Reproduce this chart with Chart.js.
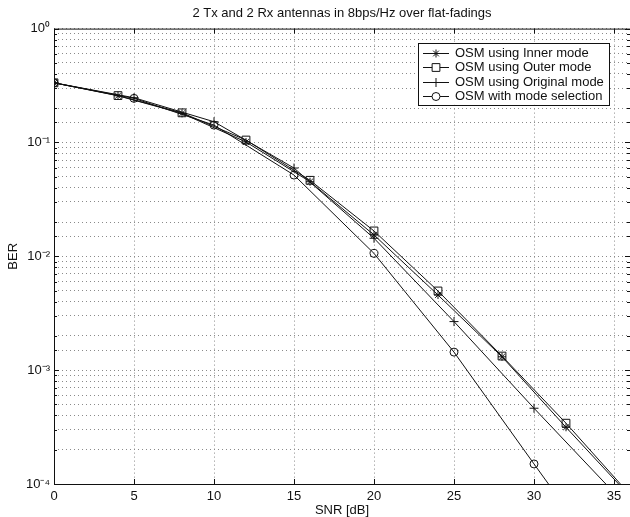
<!DOCTYPE html>
<html>
<head>
<meta charset="utf-8">
<title>OSM BER</title>
<script src="https://cdn.jsdelivr.net/npm/chart.js@4"></script>
<style>
  html, body { margin: 0; padding: 0; background: #fff; }
  #wrap { width: 630px; height: 517px; }
</style>
</head>
<body>
<div id="wrap"><canvas id="berChart"></canvas></div>
<script>
// SNR points (dB) - inner/outer curves every 4 dB, the others every 5 dB
const snrStep4 = [0, 4, 8, 12, 16, 20, 24, 28, 32, 36];
const snrStep5 = [0, 5, 10, 15, 20, 25, 30, 35];

const berInner = [0.334, 0.257, 0.180, 0.101, 0.0452, 0.0154, 0.00457, 0.00131, 0.000315, 0.000078];
const berOuter = [0.334, 0.258, 0.182, 0.105, 0.0465, 0.0167, 0.00496, 0.00133, 0.000342, 0.0000805];
const berOriginal = [0.334, 0.247, 0.152, 0.0596, 0.0144, 0.00267, 0.000463, 0.000084];
const berSelection = [0.334, 0.244, 0.142, 0.0517, 0.0106, 0.00144, 0.000150, 0.000016];

const xTicks = [0, 5, 10, 15, 20, 25, 30, 35];
const yDecades = [1, 0.1, 0.01, 0.001, 0.0001];

const seriesLabels = [
  "OSM using Inner mode",
  "OSM using Outer mode",
  "OSM using Original mode",
  "OSM with mode selection",
];

const supers = { "0": "\u2070", "1": "\u00b9", "2": "\u00b2", "3": "\u00b3", "4": "\u2074", "-": "\u207b" };

function pairs(xs, ys) {
  return xs.map((x, i) => ({ x: x, y: ys[i] }));
}

Chart.defaults.font.family = "'Liberation Sans', Arial, sans-serif";
Chart.defaults.font.size = 13;
Chart.defaults.color = "#111";

function lineSet(label, xs, ys, style, radius) {
  return {
    label: label,
    data: pairs(xs, ys),
    borderColor: "#111",
    borderWidth: 1,
    pointStyle: style,
    pointRadius: radius,
    pointBorderColor: "#111",
    pointBackgroundColor: "rgba(0,0,0,0)",
    pointBorderWidth: 1,
    tension: 0,
  };
}

// frame + inward ticks, matlab style
const framePlugin = {
  id: "frame",
  afterDatasetsDraw(chart) {
    const { ctx, chartArea: a, scales } = chart;
    ctx.save();
    ctx.strokeStyle = "#111";
    ctx.lineWidth = 1;
    ctx.strokeRect(a.left + 0.5, a.top + 0.5, a.right - a.left, a.bottom - a.top);
    ctx.beginPath();
    scales.x.ticks.forEach((t) => {
      const px = Math.round(scales.x.getPixelForValue(t.value)) + 0.5;
      ctx.moveTo(px, a.bottom);
      ctx.lineTo(px, a.bottom - 5);
      ctx.moveTo(px, a.top);
      ctx.lineTo(px, a.top + 5);
    });
    scales.y.ticks.forEach((t) => {
      const py = Math.round(scales.y.getPixelForValue(t.value)) + 0.5;
      const len = t.major ? 5 : 3;
      ctx.moveTo(a.left, py);
      ctx.lineTo(a.left + len, py);
      ctx.moveTo(a.right, py);
      ctx.lineTo(a.right - len, py);
    });
    ctx.stroke();
    ctx.restore();
  },
};

// boxed legend inside the plot, top right
const boxLegend = {
  id: "boxLegend",
  afterDraw(chart) {
    const { ctx, chartArea: a } = chart;
    const w = 191;
    const h = 62;
    const left = 418;
    const top = a.top + 14;
    ctx.save();
    ctx.fillStyle = "#fff";
    ctx.fillRect(left, top, w, h);
    ctx.strokeStyle = "#111";
    ctx.lineWidth = 1;
    ctx.strokeRect(Math.round(left) + 0.5, Math.round(top) + 0.5, w, h);
    ctx.font = "13px 'Liberation Sans', Arial, sans-serif";
    ctx.textBaseline = "middle";
    chart.data.datasets.forEach((ds, i) => {
      const y = Math.round(top + 10 + i * 14.6) + 0.5;
      ctx.beginPath();
      ctx.moveTo(left + 5, y);
      ctx.lineTo(left + 31, y);
      ctx.stroke();
      ctx.fillStyle = "#fff";
      Chart.helpers.drawPoint(ctx, {
        pointStyle: ds.pointStyle,
        radius: ds.pointRadius,
        rotation: 0,
        borderWidth: 1,
      }, left + 18, y);
      ctx.fillStyle = "#111";
      ctx.fillText(ds.label, left + 37, y);
    });
    ctx.restore();
  },
};

const ctx = document.getElementById("berChart");

new Chart(ctx, {
  type: "line",
  data: {
    datasets: [
      lineSet(seriesLabels[0], snrStep4, berInner, "star", 4),
      lineSet(seriesLabels[1], snrStep4, berOuter, "rect", 5.5),
      lineSet(seriesLabels[2], snrStep5, berOriginal, "cross", 4.5),
      lineSet(seriesLabels[3], snrStep5, berSelection, "circle", 4),
    ],
  },
  options: {
    responsive: true,
    maintainAspectRatio: false,
    animation: false,
    devicePixelRatio: 1,
    layout: { padding: 0, autoPadding: false },
    plugins: {
      legend: { display: false },
      tooltip: { enabled: false },
      title: {
        display: true,
        fullSize: false,
        text: "2 Tx and 2 Rx antennas in 8bps/Hz over flat-fadings",
        color: "#111",
        font: { size: 13, weight: "normal", lineHeight: 1.2 },
        padding: { top: 6, bottom: 7 },
      },
    },
    scales: {
      x: {
        type: "linear",
        min: 0,
        max: 36,
        afterFit(scale) {
          scale.height = 33;
          scale.paddingLeft = 0;
          scale.paddingRight = 0;
        },
        ticks: {
          stepSize: 5,
          includeBounds: false,
          padding: 5,
          color: "#111",
          maxRotation: 0,
          autoSkip: false,
          callback: (v) => (xTicks.includes(v) ? String(v) : null),
        },
        grid: {
          color: "#8a8a8a",
          drawTicks: false,
        },
        border: {
          display: false,
          dash: [1, 3],
        },
        title: {
          display: true,
          text: "SNR [dB]",
          color: "#111",
          font: { size: 13, lineHeight: 1 },
          padding: { top: 0, bottom: 0 },
        },
      },
      y: {
        type: "logarithmic",
        min: 0.0001,
        max: 1,
        afterFit(scale) {
          scale.width = 54;
        },
        ticks: {
          autoSkip: false,
          padding: 4,
          color: "#111",
          callback: (v) => {
            if (!yDecades.includes(v)) return "";
            const e = String(Math.round(Math.log10(v)));
            return "10" + e.split("").map((c) => supers[c]).join("");
          },
        },
        grid: {
          color: "#8a8a8a",
          drawTicks: false,
        },
        border: {
          display: false,
          dash: [1, 3],
        },
        title: {
          display: true,
          text: "BER",
          color: "#111",
          font: { size: 13, lineHeight: 1 },
          padding: { top: 7, bottom: 0 },
        },
      },
    },
  },
  plugins: [framePlugin, boxLegend],
});
</script>
</body>
</html>
